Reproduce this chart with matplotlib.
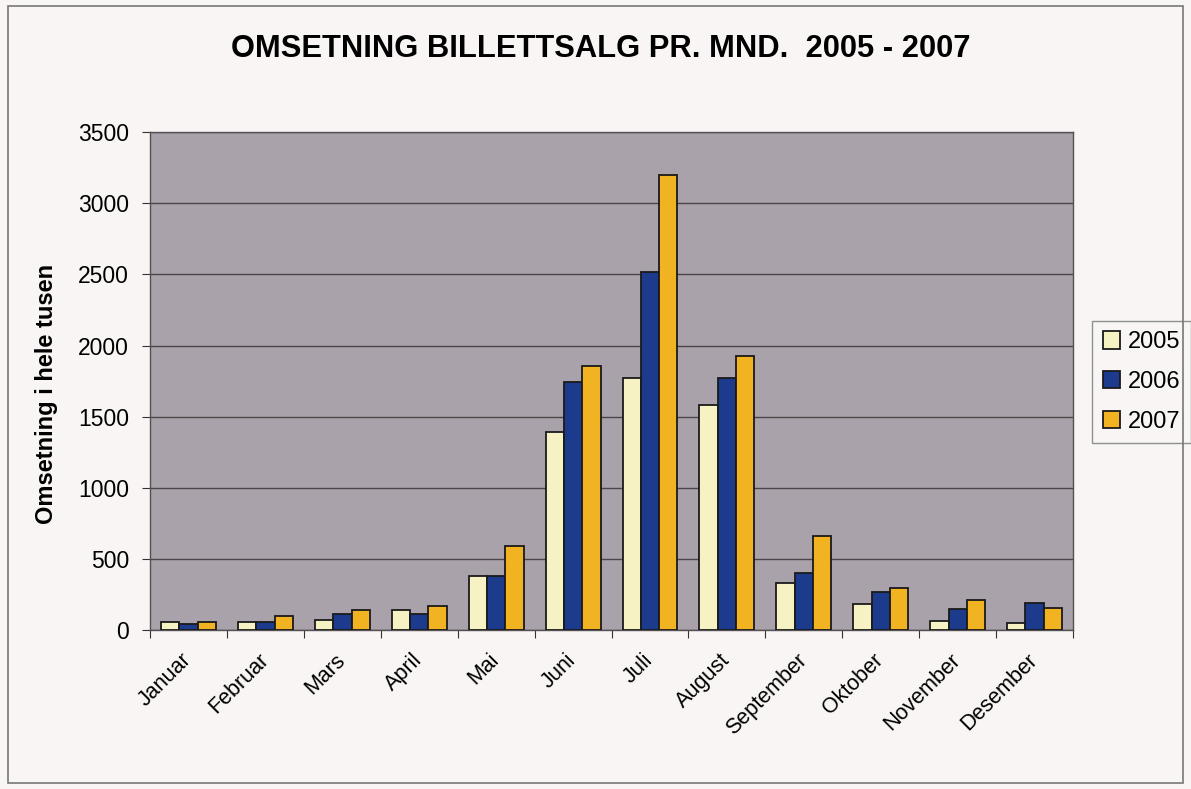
import numpy as np
import matplotlib.pyplot as plt
from matplotlib.patches import Rectangle

plt.rcParams['font.family'] = ['Liberation Sans', 'DejaVu Sans']

months = ["Januar", "Februar", "Mars", "April", "Mai", "Juni", "Juli",
          "August", "September", "Oktober", "November", "Desember"]
sales_2005 = [54, 54, 68, 138, 380, 1395, 1775, 1580, 331, 184, 61, 49]
sales_2006 = [40, 54, 112, 112, 380, 1745, 2520, 1775, 401, 264, 145, 187]
sales_2007 = [56, 96, 138, 169, 588, 1855, 3197, 1925, 658, 292, 212, 156]
years = ["2005", "2006", "2007"]

colors = ["#f6f2c4", "#1d3b8c", "#f2b323"]

fig = plt.figure(figsize=(11.91, 7.89), dpi=100, facecolor="#f8f5f4")
ax = fig.add_axes([0.126, 0.2015, 0.775, 0.631])
ax.set_facecolor("#a9a2aa")

x = np.arange(len(months))
w = 0.238
for i, (vals, lab) in enumerate(zip([sales_2005, sales_2006, sales_2007], years)):
    ax.bar(x + (i - 1) * w, vals, w, color=colors[i], edgecolor="#1a1a1a",
           linewidth=1.3, label=lab, zorder=3)

ax.set_xlim(-0.5, 11.5)
ax.set_ylim(0, 3500)
ax.set_yticks(np.arange(0, 3501, 500))
ax.yaxis.grid(True, color="#4a4548", linewidth=1, zorder=0)
ax.set_axisbelow(True)

# category boundaries get the tick marks, labels sit on the centres
ax.set_xticks(np.arange(-0.5, 12, 1))
ax.set_xticklabels([])
ax.set_xticks(x - 0.1, minor=True)
ax.set_xticklabels(months, minor=True, rotation=45, ha="right", va="top",
                   rotation_mode="anchor", fontsize=15.5)
ax.tick_params(axis="x", which="minor", length=0, pad=14)
ax.tick_params(axis="x", which="major", length=6, color="#333333")
ax.tick_params(axis="y", length=6, color="#333333", labelsize=16.5, pad=9)

for s in ax.spines.values():
    s.set_color("#555055")
    s.set_linewidth(1)

ax.set_ylabel("Omsetning i hele tusen", fontsize=17, fontweight="bold")
ax.yaxis.set_label_coords(-0.1, 0.474)

fig.text(0.504, 0.938, "OMSETNING BILLETTSALG PR. MND.  2005 - 2007",
         ha="center", va="center", fontsize=22.2, fontweight="bold")

leg = ax.legend(loc="center left", bbox_to_anchor=(0.917, 0.516),
                bbox_transform=fig.transFigure, fontsize=17, frameon=True,
                fancybox=False, edgecolor="#777777", handlelength=0.75,
                handleheight=0.75, handletextpad=0.3, labelspacing=0.75,
                borderpad=0.45, borderaxespad=0)
leg.get_frame().set_facecolor("#f8f5f4")
leg.get_frame().set_linewidth(1)

fig.patches.append(Rectangle((0.007, 0.008), 0.986, 0.984, transform=fig.transFigure,
                             fill=False, edgecolor="#777777", linewidth=1.2))

fig.savefig("out.png", dpi=100, facecolor=fig.get_facecolor())
